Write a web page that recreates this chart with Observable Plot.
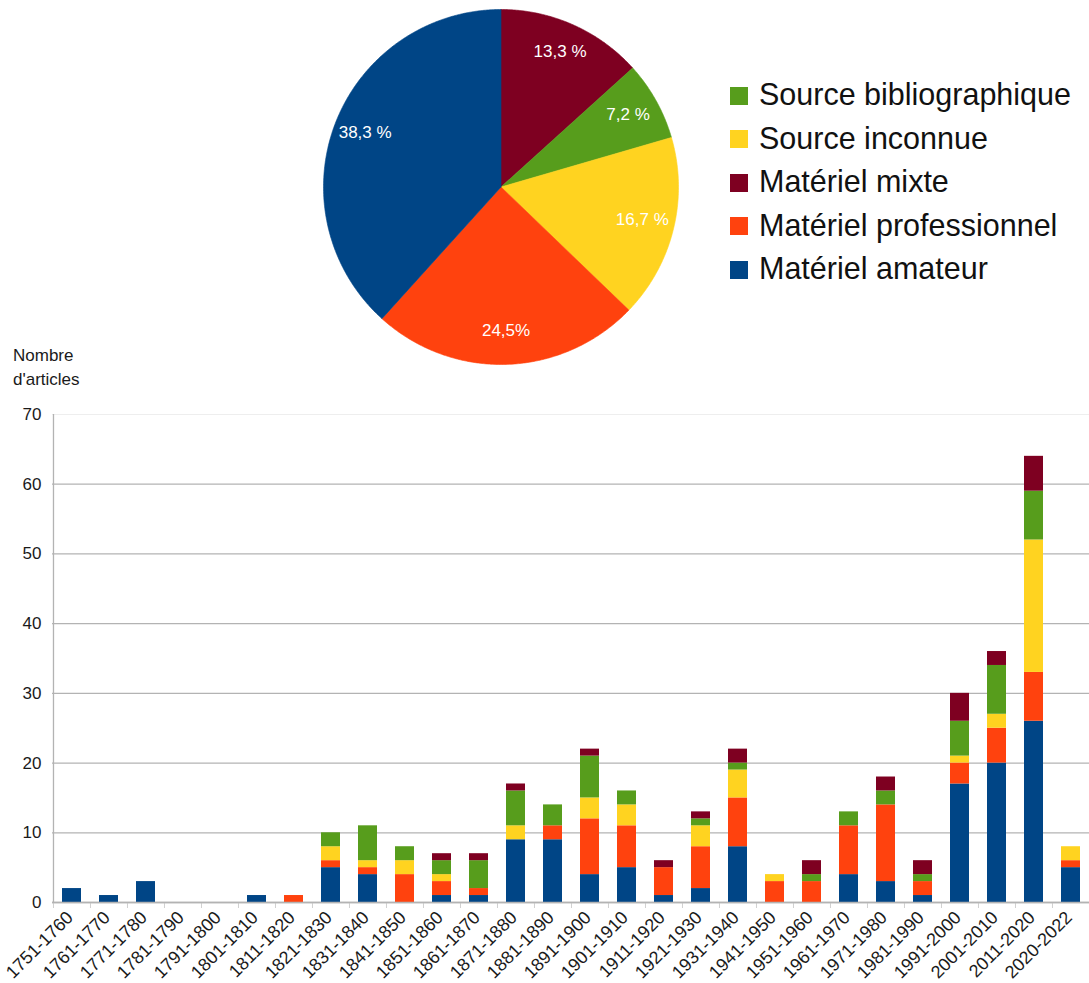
<!DOCTYPE html>
<html>
<head>
<meta charset="utf-8">
<script src="https://cdn.jsdelivr.net/npm/d3@7"></script>
<script src="https://cdn.jsdelivr.net/npm/@observablehq/plot@0.6"></script>
<style>
  html, body { margin: 0; padding: 0; background: #fff; }
  #root { position: relative; width: 1089px; height: 983px; overflow: hidden; background: #fff;
          font-family: "Liberation Sans", Arial, sans-serif; color: #1a1a1a; }
  #pie { position: absolute; left: 323px; top: 9px; }
  #legend { position: absolute; left: 730px; top: 73px; }
  .row { display: flex; align-items: center; height: 43.5px; font-size: 30.5px; color: #111; }
  .sw { width: 18px; height: 18px; margin-right: 11px; margin-top: 2px; }
  #ylab { position: absolute; left: 13px; top: 344px; font-size: 17px; line-height: 24px; color: #1a1a1a; }
  #bars { position: absolute; left: 0; top: 400px; }
</style>
</head>
<body>
<div id="root">
  <div id="pie"></div>
  <div id="legend"></div>
  <div id="ylab">Nombre<br>d'articles</div>
  <div id="bars"></div>
</div>
<script>
// ---- Data ----
const periods = ["1751-1760","1761-1770","1771-1780","1781-1790","1791-1800","1801-1810","1811-1820","1821-1830","1831-1840","1841-1850","1851-1860","1861-1870","1871-1880","1881-1890","1891-1900","1901-1910","1911-1920","1921-1930","1931-1940","1941-1950","1951-1960","1961-1970","1971-1980","1981-1990","1991-2000","2001-2010","2011-2020","2020-2022"];
const amateur         = [2,1,3,0,0,1,0,5,4,0,1,1,9,9,4,5,1,2,8,0,0,4,3,1,17,20,26,5];
const professionnel   = [0,0,0,0,0,0,1,1,1,4,2,1,0,2,8,6,4,6,7,3,3,7,11,2,3,5,7,1];
const inconnue        = [0,0,0,0,0,0,0,2,1,2,1,0,2,0,3,3,0,3,4,1,0,0,0,0,1,2,19,2];
const bibliographique = [0,0,0,0,0,0,0,2,5,2,2,4,5,3,6,2,0,1,1,0,1,2,2,1,5,7,7,0];
const mixte           = [0,0,0,0,0,0,0,0,0,0,1,1,1,0,1,0,1,1,2,0,2,0,2,2,4,2,5,0];

const seriesNames = ["Matériel amateur","Matériel professionnel","Source inconnue","Source bibliographique","Matériel mixte"];
const seriesValues = [amateur, professionnel, inconnue, bibliographique, mixte];
const seriesColors = ["#004586","#ff420e","#ffd320","#579d1c","#7e0021"];

const legendOrder = ["Source bibliographique","Source inconnue","Matériel mixte","Matériel professionnel","Matériel amateur"];

const pieCategories = ["Matériel mixte","Source bibliographique","Source inconnue","Matériel professionnel","Matériel amateur"];
const pieValues = [13.3, 7.2, 16.7, 24.5, 38.3];
const pieLabels = ["13,3 %","7,2 %","16,7 %","24,5%","38,3 %"];

const yTicks = [0,10,20,30,40,50,60,70];

// ---- helpers ----
const colorOf = name => seriesColors[seriesNames.indexOf(name)];

// ---- Pie ----
{
  const total = d3.sum(pieValues);
  let acc = 0;
  const slices = pieValues.map((v, i) => {
    const a0 = acc / total * 2 * Math.PI;
    acc += v;
    const a1 = acc / total * 2 * Math.PI;
    return {name: pieCategories[i], label: pieLabels[i], a0, a1};
  });
  const marks = slices.map(s => {
    const pts = [{x: 0, y: 0}];
    const n = Math.max(2, Math.ceil((s.a1 - s.a0) / (Math.PI / 360)));
    for (let k = 0; k <= n; k++) {
      const a = s.a0 + (s.a1 - s.a0) * k / n;
      pts.push({x: Math.sin(a), y: Math.cos(a)});
    }
    pts.push({x: 0, y: 0});
    return Plot.line(pts, {x: "x", y: "y", fill: colorOf(s.name), stroke: colorOf(s.name), strokeWidth: 0.6, curve: "linear"});
  });
  const labelPts = slices.map(s => {
    const a = (s.a0 + s.a1) / 2;
    return {x: 0.82 * Math.sin(a), y: 0.82 * Math.cos(a), label: s.label};
  });
  marks.push(Plot.text(labelPts, {x: "x", y: "y", text: "label", fill: "white", fontSize: 17, dy: -2}));
  const pie = Plot.plot({
    width: 355, height: 355,
    margin: 0, inset: 0,
    x: {domain: [-1, 1], axis: null},
    y: {domain: [-1, 1], axis: null},
    style: {fontFamily: '"Liberation Sans", Arial, sans-serif', background: "transparent", overflow: "visible"},
    marks
  });
  document.getElementById("pie").appendChild(pie);
}

// ---- Legend ----
{
  const lg = document.getElementById("legend");
  legendOrder.forEach(name => {
    const row = document.createElement("div");
    row.className = "row";
    const sw = document.createElement("div");
    sw.className = "sw";
    sw.style.background = colorOf(name);
    const t = document.createElement("span");
    t.textContent = name;
    row.appendChild(sw); row.appendChild(t);
    lg.appendChild(row);
  });
}

// ---- Stacked bars ----
{
  const rows = [];
  seriesNames.forEach((s, si) => {
    periods.forEach((p, pi) => rows.push({period: p, series: s, value: seriesValues[si][pi]}));
  });
  const width = 1089, marginLeft = 52, marginRight = 0;
  const step = (width - marginLeft - marginRight) / periods.length;
  const chart = Plot.plot({
    width, height: 583,
    marginLeft, marginRight, marginTop: 14, marginBottom: 81,
    x: {domain: periods, paddingInner: 0.5, paddingOuter: 0.25, axis: null, label: null},
    y: {domain: [0, 70], axis: null, label: null},
    color: {domain: seriesNames, range: seriesColors},
    style: {fontFamily: '"Liberation Sans", Arial, sans-serif', background: "transparent", color: "#1a1a1a", overflow: "visible"},
    marks: [
      Plot.gridY({ticks: yTicks.filter(t => t < 70), stroke: "#b3b3b3", strokeOpacity: 1, strokeWidth: 1.3}),
      Plot.gridY({ticks: [70], stroke: "#eeeeee", strokeOpacity: 1, strokeWidth: 1}),
      Plot.ruleX([periods[0]], {dx: -step / 2, y1: 0, y2: 70, stroke: "#b3b3b3", strokeWidth: 1.3}),
      Plot.axisX({tickSize: 6, tickFormat: () => "", dx: -step / 2, stroke: "#d0d0d0", label: null}),
      Plot.axisX({tickSize: 0, tickRotate: -45, tickPadding: 12, dx: -2, fontSize: 18, fill: "#1a1a1a", label: null}),
      Plot.axisY({ticks: yTicks, tickSize: 0, tickPadding: 11, fontSize: 17, fill: "#1a1a1a", label: null}),
      Plot.barY(rows, {x: "period", y: "value", fill: "series", order: seriesNames, inset: 0}),
      Plot.ruleY([0], {stroke: "#b3b3b3", strokeWidth: 1.3})
    ]
  });
  document.getElementById("bars").appendChild(chart);
}
</script>
</body>
</html>
